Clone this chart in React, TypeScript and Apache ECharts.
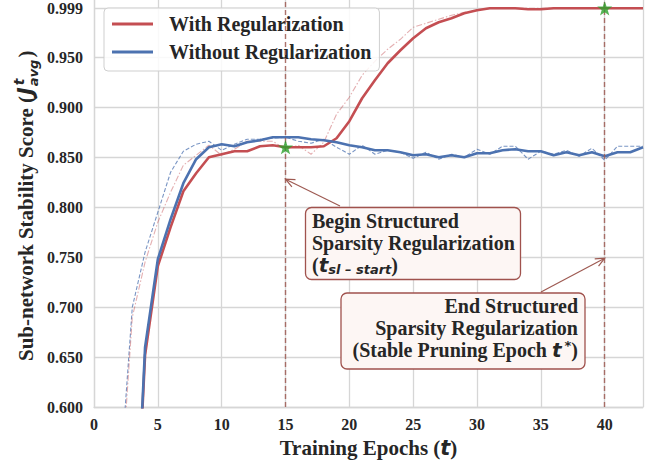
import { useEffect, useRef } from 'react';
import * as echarts from 'echarts';

// ---------- data ----------
const SMOOTH_START_EPOCH = 3;
const withRegSmooth = [
  0.39, 0.652, 0.741, 0.780, 0.816, 0.834, 0.850, 0.853, 0.856, 0.856,
  0.861, 0.862, 0.860, 0.860, 0.860, 0.861, 0.869, 0.886, 0.909, 0.927,
  0.944, 0.957, 0.969, 0.979, 0.985, 0.989, 0.994, 0.997, 0.999, 0.999,
  0.999, 0.998, 0.998, 0.999, 0.999, 0.999, 0.999, 0.999, 0.999, 0.999, 0.999,
];
const withoutRegSmooth = [
  0.385, 0.660, 0.748, 0.788, 0.824, 0.848, 0.860, 0.863, 0.861, 0.865,
  0.867, 0.870, 0.870, 0.870, 0.868, 0.867, 0.865, 0.862, 0.860, 0.857,
  0.857, 0.855, 0.852, 0.853, 0.850, 0.852, 0.850, 0.854, 0.854, 0.857,
  0.858, 0.856, 0.856, 0.852, 0.855, 0.852, 0.855, 0.851, 0.855, 0.855, 0.860,
];
const RAW_START_EPOCH = 2;
const withRegRaw = [
  0.50, 0.69, 0.745, 0.785, 0.815, 0.842, 0.852, 0.862, 0.852, 0.858,
  0.866, 0.866, 0.866, 0.858, 0.862, 0.853, 0.865, 0.893, 0.910, 0.932,
  0.946, 0.958, 0.968, 0.980, 0.984, 0.988, 0.992, 0.995, 0.997, 0.999,
  0.999, 0.999, 0.999, 0.999, 0.999, 0.999, 0.999, 0.999, 0.999, 0.999, 0.999, 0.999,
];
const withoutRegRaw = [
  0.52, 0.700, 0.755, 0.795, 0.835, 0.856, 0.863, 0.866, 0.857, 0.863,
  0.868, 0.868, 0.869, 0.870, 0.866, 0.864, 0.868, 0.860, 0.853, 0.862,
  0.853, 0.857, 0.855, 0.849, 0.855, 0.848, 0.853, 0.850, 0.858, 0.853,
  0.861, 0.861, 0.848, 0.856, 0.853, 0.857, 0.851, 0.859, 0.847, 0.861, 0.861, 0.861,
];
const starPoints = [
  [15, 0.860],
  [40, 0.999],
];
const markerEpochs = [15, 40];
const yTickValues = [0.6, 0.65, 0.7, 0.75, 0.8, 0.85, 0.9, 0.95, 0.999];
const xTickInterval = 5;
const xMax = 43;
const yMin = 0.6;
const yMax = 1.0073;
const arrowTips = [
  [15, 0.828],
  [40, 0.749],
];
const SERIES_NAMES = ['With Regularization', 'Without Regularization'];

// ---------- styles ----------
const SERIF = '"Liberation Serif", "Times New Roman", serif';
const SANS = '"DejaVu Sans", sans-serif';
const INK = '#262626';
const RED = '#c44e52';
const BLUE = '#4c72b0';
const BROWN = '#9e5a52';
const GRIDC = '#d6d6d6';

const toPairs = (vals: number[], start: number) => vals.map((v, i) => [start + i, v]);

function measure(text: string, font: string) {
  const c = document.createElement('canvas').getContext('2d')!;
  c.font = font;
  return c.measureText(text).width;
}

export default function App() {
  const ref = useRef<HTMLDivElement>(null);
  useEffect(() => {
    const chart = echarts.init(ref.current!, null, { renderer: 'svg' });
    const star =
      'path://M0,-10L2.35,-3.24L9.51,-3.09L3.8,1.24L5.88,8.09L0,4L-5.88,8.09L-3.8,1.24L-9.51,-3.09L-2.35,-3.24Z';

    const option: any = {
      animation: false,
      backgroundColor: '#ffffff',
      grid: { left: 94, right: 13, top: 0, bottom: 54.5, containLabel: false },
      legend: {
        left: 104,
        top: 8,
        orient: 'vertical',
        data: SERIES_NAMES,
        icon: 'rect',
        itemWidth: 41,
        itemHeight: 3,
        itemGap: 6,
        padding: [5, 8, 8, 8],
        borderColor: '#cfcfcf',
        borderWidth: 1,
        borderRadius: 4,
        backgroundColor: 'rgba(255,255,255,0.85)',
        textStyle: {
          fontFamily: SERIF,
          fontWeight: 'bold',
          fontSize: 20,
          lineHeight: 22,
          color: INK,
          padding: [0, 0, 0, 11],
        },
      },
      xAxis: {
        type: 'value',
        min: 0,
        max: xMax,
        interval: xTickInterval,
        name: '{a|Training Epochs (}{t|t}{a|)}',
        nameLocation: 'middle',
        nameGap: 29,
        nameTextStyle: {
          rich: {
            a: { fontFamily: SERIF, fontWeight: 'bold', fontSize: 21, color: INK },
            t: { fontFamily: SANS, fontWeight: 'bold', fontStyle: 'italic', fontSize: 21, color: INK },
          },
        },
        axisLine: { show: true, lineStyle: { color: GRIDC, width: 1.3 } },
        axisTick: { show: false },
        splitLine: { show: true, lineStyle: { color: GRIDC, width: 1.3 } },
        axisLabel: {
          margin: 9,
          fontFamily: SERIF,
          fontWeight: 'bold',
          fontSize: 16,
          color: INK,
          formatter: (v: number) => (v % xTickInterval === 0 ? String(v) : ''),
        },
      },
      yAxis: {
        type: 'value',
        min: yMin,
        max: yMax,
        axisLine: { show: true, lineStyle: { color: GRIDC, width: 1.3 } },
        axisTick: { show: false, customValues: yTickValues },
        splitLine: { show: true, lineStyle: { color: GRIDC, width: 1.3 } },
        axisLabel: {
          customValues: yTickValues,
          margin: 11,
          fontFamily: SERIF,
          fontWeight: 'bold',
          fontSize: 16,
          color: INK,
          formatter: (v: number) => v.toFixed(3),
        },
      },
      series: [
        {
          name: 'raw-without',
          type: 'line',
          data: toPairs(withoutRegRaw, RAW_START_EPOCH),
          symbol: 'none',
          clip: true,
          lineStyle: { color: BLUE, width: 1.1, type: [4, 2], opacity: 0.75 },
          z: 2,
          silent: true,
        },
        {
          name: 'raw-with',
          type: 'line',
          data: toPairs(withRegRaw, RAW_START_EPOCH),
          symbol: 'none',
          clip: true,
          lineStyle: { color: RED, width: 1.1, type: [6, 2, 1.5, 2], opacity: 0.45 },
          z: 2,
          silent: true,
        },
        {
          name: SERIES_NAMES[0],
          type: 'line',
          data: toPairs(withRegSmooth, SMOOTH_START_EPOCH),
          symbol: 'none',
          clip: true,
          color: RED,
          itemStyle: { color: RED },
          lineStyle: { color: RED, width: 2.6 },
          z: 3,
        },
        {
          name: SERIES_NAMES[1],
          type: 'line',
          data: toPairs(withoutRegSmooth, SMOOTH_START_EPOCH),
          symbol: 'none',
          clip: true,
          color: BLUE,
          itemStyle: { color: BLUE },
          lineStyle: { color: BLUE, width: 2.6 },
          z: 4,
        },
        {
          name: 'stars',
          type: 'scatter',
          data: starPoints,
          symbol: star,
          symbolKeepAspect: true,
          symbolSize: 15,
          clip: false,
          itemStyle: { color: '#2ca02c' },
          z: 6,
          silent: true,
          markLine: {
            silent: true,
            symbol: 'none',
            label: { show: false },
            lineStyle: { color: BROWN, type: [5, 3], width: 1.4, opacity: 0.85 },
            data: markerEpochs.map((e) => ({ xAxis: e })),
          },
        },
      ],
    };
    chart.setOption(option);

    // ---------- annotations ----------
    const tip1 = chart.convertToPixel({ gridIndex: 0 }, arrowTips[0]) as number[];
    const tip2 = chart.convertToPixel({ gridIndex: 0 }, arrowTips[1]) as number[];
    const arrow = (from: number[], to: number[]) => {
      const dx = to[0] - from[0];
      const dy = to[1] - from[1];
      const ang = Math.atan2(dy, dx);
      const L = 10;
      const a = 0.42;
      const p1 = [to[0] - L * Math.cos(ang - a), to[1] - L * Math.sin(ang - a)];
      const p2 = [to[0] - L * Math.cos(ang + a), to[1] - L * Math.sin(ang + a)];
      return [
        {
          type: 'line',
          shape: { x1: from[0], y1: from[1], x2: to[0], y2: to[1] },
          style: { stroke: BROWN, lineWidth: 1.2 },
          z: 10,
        },
        {
          type: 'polyline',
          shape: { points: [p1, to, p2] },
          style: { stroke: BROWN, lineWidth: 1.2, fill: null },
          z: 10,
        },
      ];
    };

    const richBase = {
      a: { fontFamily: SERIF, fontWeight: 'bold', fontSize: 20, lineHeight: 22, fill: INK, color: INK, verticalAlign: 'middle' },
      t: { fontFamily: SANS, fontWeight: 'bold', fontStyle: 'italic', fontSize: 20, lineHeight: 22, fill: INK, color: INK, verticalAlign: 'middle' },
      s: { fontFamily: SANS, fontWeight: 'bold', fontStyle: 'italic', fontSize: 13, lineHeight: 22, fill: INK, color: INK, verticalAlign: 'bottom' },
      p: { fontFamily: SANS, fontWeight: 'bold', fontSize: 13, lineHeight: 22, fill: INK, color: INK, verticalAlign: 'top', padding: [0, 0, 0, 3] },
    };

    // y-axis title composed of pieces (rotated group)
    const fMain = `bold 21px ${SERIF}`;
    const fJ = `italic bold 21px ${SANS}`;
    const fSup = `italic bold 14px ${SANS}`;
    const fSub = `italic bold 13px ${SANS}`;
    const mainTxt = 'Sub-network Stability Score (';
    const wMain = measure(mainTxt, fMain);
    const wJ = measure('J', fJ);
    const wSub = measure('avg', fSub);
    const tx = (text: string, x: number, y: number, font: string) => ({
      type: 'text',
      x,
      y,
      style: {
        text,
        font,
        fill: INK,
        align: 'left',
        textAlign: 'left',
        verticalAlign: 'middle',
        textVerticalAlign: 'middle',
      },
    });
    const jx = wMain + 1;
    const sx = jx + wJ + 1;
    const yTitle = {
      type: 'group',
      x: 26,
      y: 361,
      rotation: Math.PI / 2,
      children: [
        tx(mainTxt, 0, 0, fMain),
        tx('J', jx, 0, fJ),
        tx('t', sx + 1, -7, fSup),
        tx('avg', sx, 7, fSub),
        tx(')', sx + wSub + 2, 0, fMain),
      ],
    };

    chart.setOption({
      graphic: [
        yTitle,
        ...arrow([340, 206], tip1),
        ...arrow([541, 292], tip2),
        {
          type: 'rect',
          shape: { x: 305.5, y: 207.5, width: 215, height: 72, r: 6 },
          style: { fill: '#fdf6f4', stroke: '#a0524d', lineWidth: 1.3 },
          z: 11,
        },
        {
          type: 'text',
          x: 312,
          y: 210,
          z: 12,
          style: {
            text: '{a|Begin Structured}\n{a|Sparsity Regularization}\n{a|(}{t|t}{s|sl – start}{a|)}',
            rich: richBase,
            align: 'left',
            textAlign: 'left',
            verticalAlign: 'top',
            textVerticalAlign: 'top',
          },
        },
        {
          type: 'rect',
          shape: { x: 341, y: 293, width: 244, height: 76, r: 6 },
          style: { fill: '#fdf6f4', stroke: '#a0524d', lineWidth: 1.3 },
          z: 11,
        },
        {
          type: 'text',
          x: 578,
          y: 295,
          z: 12,
          style: {
            text: '{a|End Structured}\n{a|Sparsity Regularization}\n{a|(Stable Pruning Epoch }{t|t}{p|*}{a|)}',
            rich: richBase,
            align: 'right',
            textAlign: 'right',
            verticalAlign: 'top',
            textVerticalAlign: 'top',
          },
        },
      ],
    });

    return () => chart.dispose();
  }, []);
  return (
    <div
      ref={ref}
      style={{ position: 'fixed', left: 0, top: 0, width: 656, height: 463, background: '#fff' }}
    />
  );
}
